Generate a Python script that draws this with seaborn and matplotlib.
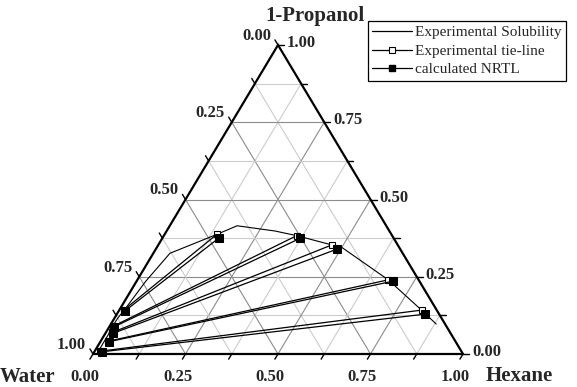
import numpy as np
import pandas as pd
import matplotlib
matplotlib.use("Agg")
import matplotlib.pyplot as plt
from matplotlib.lines import Line2D
import seaborn as sns

# ---------------- data (mass fractions) ----------------
# Experimental solubility (binodal) curve
sol_hexane = [0.010, 0.010, 0.010, 0.008, 0.009, 0.014, 0.025, 0.045, 0.141,
              0.182, 0.293, 0.359, 0.469, 0.500, 0.678, 0.817, 0.879]
sol_propanol = [0.007, 0.039, 0.062, 0.087, 0.117, 0.146, 0.236, 0.326, 0.387,
                0.415, 0.398, 0.383, 0.353, 0.345, 0.240, 0.142, 0.097]

# Experimental tie-lines: water-rich phase / hexane-rich phase
exp_w_hexane = [0.015, 0.019, 0.016, 0.010, 0.012]
exp_w_propanol = [0.009, 0.041, 0.069, 0.090, 0.142]
exp_h_hexane = [0.817, 0.678, 0.469, 0.359, 0.141]
exp_h_propanol = [0.142, 0.240, 0.353, 0.383, 0.387]

# Calculated NRTL tie-lines
nrtl_w_hexane = [0.020, 0.024, 0.021, 0.013, 0.017]
nrtl_w_propanol = [0.007, 0.040, 0.067, 0.088, 0.140]
nrtl_h_hexane = [0.833, 0.694, 0.489, 0.372, 0.153]
nrtl_h_propanol = [0.129, 0.236, 0.339, 0.374, 0.376]

tick_values = [0.0, 0.25, 0.50, 0.75, 1.00]
tick_labels = ["0.00", "0.25", "0.50", "0.75", "1.00"]
legend_labels = ["Experimental Solubility", "Experimental tie-line", "calculated NRTL"]

# ---------------- figure ----------------
sns.set_style("white")
plt.rcParams["font.family"] = ["Liberation Serif", "DejaVu Serif"]

W, H = 577, 387
fig = plt.figure(figsize=(W / 100, H / 100), dpi=100)
x0, y0, wpx, hpx = 93, 354, 370, 309
ax = fig.add_axes([x0 / W, 1 - y0 / H, wpx / W, hpx / H])
ax.set_xlim(0, 1)
ax.set_ylim(0, 1)
ax.axis("off")


def cart(h, p):
    h = np.asarray(h, float)
    p = np.asarray(p, float)
    return h + p / 2, p


# grid
for k in range(1, 8):
    v = k / 8
    col = "#8c8c8c" if k % 2 == 0 else "#cccccc"
    segs = [((v, 0), (v + (1 - v) / 2, 1 - v)),           # const hexane
            ((v / 2, v), (1 - v / 2, v)),                  # const propanol
            ((1 - v, 0), ((1 - v) / 2, 1 - v))]            # const water
    for (a, b) in segs:
        ax.plot([a[0], b[0]], [a[1], b[1]], color=col, lw=0.8, zorder=1)

# triangle
ax.plot([0, 1, 0.5, 0], [0, 0, 1, 0], color="black", lw=1.6, zorder=2,
        clip_on=False, solid_joinstyle="miter")

# ticks
L = 6
for k in range(9):
    v = k / 8
    # bottom (hexane)
    ax.plot([v, v - 0.516 * L / wpx], [0, -0.857 * L / hpx], color="k", lw=1, clip_on=False)
    # left (water)
    px, py = (1 - v) / 2, 1 - v
    ax.plot([px, px - 0.516 * L / wpx], [py, py + 0.857 * L / hpx], color="k", lw=1, clip_on=False)
    # right (propanol)
    px, py = 1 - v / 2, v
    ax.plot([px, px + L / wpx], [py, py], color="k", lw=1, clip_on=False)

fs_tick = 12
for v, lab in zip(tick_values, tick_labels):
    ax.annotate(lab, (v, 0), xytext=(-8, -23), textcoords="offset pixels",
                ha="center", va="center", fontsize=fs_tick, fontweight="bold")
    ax.annotate(lab, ((1 - v) / 2, 1 - v), xytext=(-7, 9), textcoords="offset pixels",
                ha="right", va="center", fontsize=fs_tick, fontweight="bold")
    ax.annotate(lab, (1 - v / 2, v), xytext=(9, 2), textcoords="offset pixels",
                ha="left", va="center", fontsize=fs_tick, fontweight="bold")

# solubility curve
sx, sy = cart(sol_hexane, sol_propanol)
sns.lineplot(x=sx, y=sy, sort=False, estimator=None, color="black", lw=0.8, ax=ax, zorder=3)


def tie_frame(wh, wp, hh, hp):
    rows = []
    for i in range(len(wh)):
        for h_, p_ in ((wh[i], wp[i]), (hh[i], hp[i])):
            cx, cy = cart(h_, p_)
            rows.append({"x": float(cx), "y": float(cy), "tie": i})
    return pd.DataFrame(rows)


df_exp = tie_frame(exp_w_hexane, exp_w_propanol, exp_h_hexane, exp_h_propanol)
df_nrtl = tie_frame(nrtl_w_hexane, nrtl_w_propanol, nrtl_h_hexane, nrtl_h_propanol)

sns.lineplot(data=df_exp, x="x", y="y", units="tie", estimator=None, sort=False,
             color="black", lw=0.9, marker="s", markersize=5,
             markerfacecolor="white", markeredgecolor="black", markeredgewidth=0.8,
             ax=ax, zorder=4, clip_on=False)
sns.lineplot(data=df_nrtl, x="x", y="y", units="tie", estimator=None, sort=False,
             color="black", lw=0.9, marker="s", markersize=6,
             markerfacecolor="black", markeredgecolor="black",
             ax=ax, zorder=5, clip_on=False)
if ax.get_legend() is not None:
    ax.get_legend().remove()
ax.set_xlim(0, 1)
ax.set_ylim(0, 1)

# vertex titles
fig.text(315 / W, 1 - 16 / H, "1-Propanol", ha="center", va="center", fontsize=15, fontweight="bold")
fig.text(0 / W, 1 - 377 / H, "Water", ha="left", va="center", fontsize=15, fontweight="bold")
fig.text(486 / W, 1 - 376 / H, "Hexane", ha="left", va="center", fontsize=15, fontweight="bold")

# legend
handles = [Line2D([], [], color="black", lw=0.9),
           Line2D([], [], color="black", lw=0.9, marker="s", markersize=5,
                  markerfacecolor="white", markeredgecolor="black", markeredgewidth=0.8),
           Line2D([], [], color="black", lw=0.9, marker="s", markersize=5,
                  markerfacecolor="black", markeredgecolor="black")]
leg = fig.legend(handles, legend_labels, loc="upper right",
                 bbox_to_anchor=(566 / W, 1 - 21 / H), fontsize=11,
                 frameon=True, fancybox=False, framealpha=1, edgecolor="black",
                 handlelength=2.6, handletextpad=0.2, labelspacing=0.32,
                 borderpad=0.3, borderaxespad=0)
leg.get_frame().set_linewidth(0.9)

fig.savefig("out.png", dpi=100)
